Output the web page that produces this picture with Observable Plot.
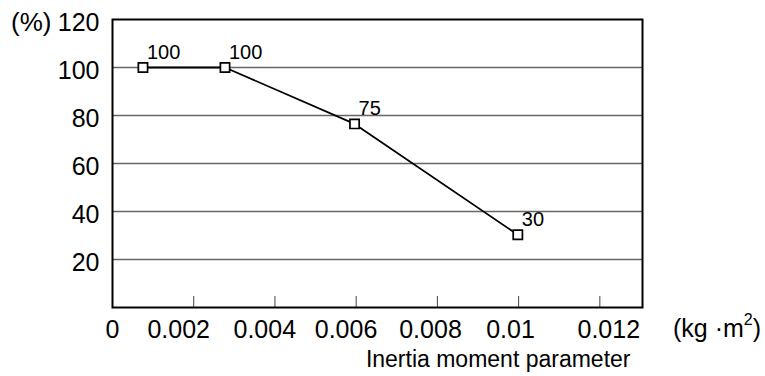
<!DOCTYPE html>
<html>
<head>
<meta charset="utf-8">
<script src="https://cdn.jsdelivr.net/npm/d3@7"></script>
<script src="https://cdn.jsdelivr.net/npm/@observablehq/plot@0.6"></script>
<style>
  body { margin: 0; background: #fff; }
  svg { font-family: "Liberation Sans", Arial, sans-serif; }
</style>
</head>
<body>
<div id="chart"></div>
<script>
// Data
const inertia = [0.00075, 0.00277, 0.00596, 0.00998];
const ratio = [100, 100, 76.5, 30.3];
const pointLabels = ["100", "100", "75", "30"];
const xTickValues = [0.002, 0.004, 0.006, 0.008, 0.01, 0.012];
const xTickLabels = ["0", "0.002", "0.004", "0.006", "0.008", "0.01", "0.012"];
// where each x tick label sits in the reference (data units)
const xTickLabelPos = [0, 0.00163, 0.00375, 0.00575, 0.00783, 0.0098, 0.01222];
const yTickValues = [20, 40, 60, 80, 100, 120];
const yGridValues = [20, 40, 60, 80, 100];

const data = inertia.map((x, i) => ({x, y: ratio[i], label: pointLabels[i]}));
const tickLabelData = xTickLabels.map((t, i) => ({x: xTickLabelPos[i], t}));

const plot = Plot.plot({
  width: 765,
  height: 376,
  marginLeft: 112,
  marginRight: 123,
  marginTop: 19,
  marginBottom: 69,
  style: {fontFamily: "Liberation Sans, Arial, sans-serif", background: "#fff"},
  x: {domain: [0, 0.01305], axis: null},
  y: {domain: [0, 120]},
  marks: [
    Plot.ruleY(yGridValues, {stroke: "#666", strokeWidth: 1.5}),
    Plot.ruleX(xTickValues, {y1: 0, y2: 4.6, stroke: "#444", strokeWidth: 1}),
    Plot.frame({stroke: "#000", strokeWidth: 2}),
    Plot.text(tickLabelData, {x: "x", text: "t", frameAnchor: "bottom", lineAnchor: "middle", dy: 22, fontSize: 25, fill: "#000"}),
    Plot.axisY(yTickValues, {tickSize: 0, tickPadding: 13, fontSize: 25, dy: 3.5, fill: "#000", label: null}),
    Plot.line(data, {x: "x", y: "y", stroke: "#000", strokeWidth: 1.8}),
    Plot.dot(data, {x: "x", y: "y", symbol: "square", r: 5.2, stroke: "#000", strokeWidth: 1.7, fill: "#fff"}),
    Plot.text(data, {x: "x", y: "y", text: "label", textAnchor: "start", dx: 4, dy: -15, fontSize: 20, fill: "#000"}),
    Plot.text(["(%)"], {frameAnchor: "top-left", textAnchor: "end", lineAnchor: "middle", dx: -61, dy: 3.5, fontSize: 26, fill: "#000"}),
    Plot.text(["Inertia moment parameter"], {frameAnchor: "bottom-right", textAnchor: "end", lineAnchor: "middle", dx: -12, dy: 52, fontSize: 23, fill: "#000"})
  ]
});

// Unit label with superscript, placed relative to the frame
const svg = d3.select(plot);
const xs = plot.scale("x");
const ys = plot.scale("y");
const unit = svg.append("text")
  .attr("x", xs.range[1] + 31)
  .attr("y", ys.range[0] + 30)
  .attr("text-anchor", "start")
  .attr("font-size", 25)
  .attr("fill", "#000");
unit.append("tspan").text("(kg \u00b7m");
unit.append("tspan").attr("dy", -12).attr("font-size", 16).text("2");
unit.append("tspan").attr("dy", 12).text(")");

document.getElementById("chart").appendChild(plot);
</script>
</body>
</html>
